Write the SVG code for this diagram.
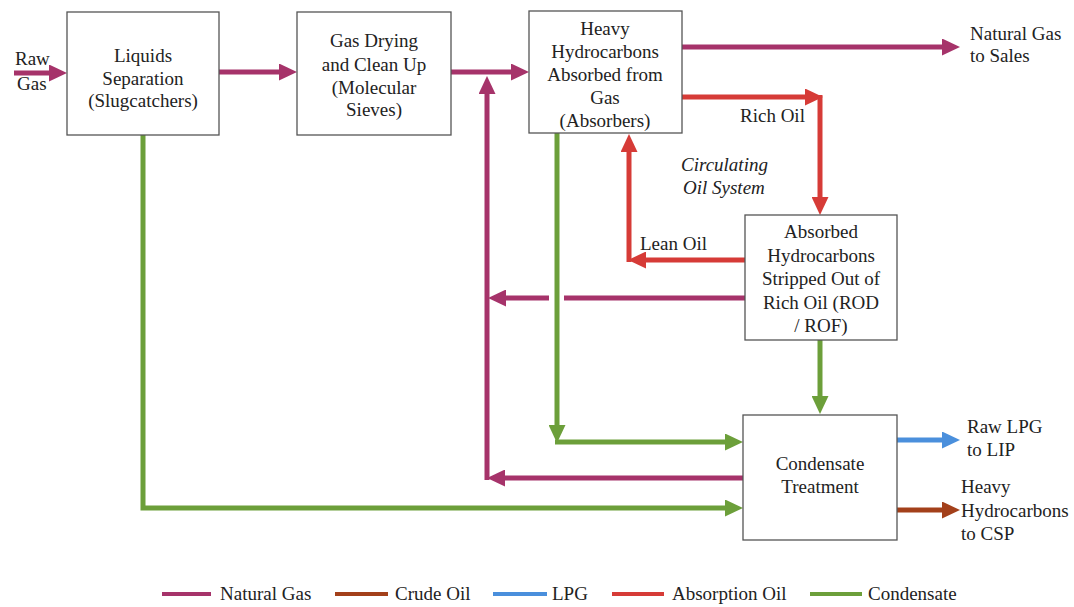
<svg xmlns="http://www.w3.org/2000/svg" width="1074" height="607" viewBox="0 0 1074 607">
<style>
.box{fill:#fff;stroke:#555;stroke-width:1.3}
.t{font-family:"Liberation Serif","Times New Roman",serif;font-size:19px;fill:#222}
.c{text-anchor:middle}
.it{font-style:italic}
.ln{fill:none;stroke-width:5;stroke-linejoin:miter}
.ng{stroke:#A6336A}
.ao{stroke:#D63B37}
.cd{stroke:#6C9F3A}
.lp{stroke:#4A8FDC}
.co{stroke:#A3401A}
.lg{stroke-width:4}
</style>
<defs>
<marker id="mNG" markerUnits="userSpaceOnUse" markerWidth="18" markerHeight="17" refX="10" refY="8.5" orient="auto"><path d="M0,0 L18,8.5 L0,17 z" fill="#A6336A"/></marker>
<marker id="mAO" markerUnits="userSpaceOnUse" markerWidth="18" markerHeight="17" refX="10" refY="8.5" orient="auto"><path d="M0,0 L18,8.5 L0,17 z" fill="#D63B37"/></marker>
<marker id="mCD" markerUnits="userSpaceOnUse" markerWidth="18" markerHeight="17" refX="10" refY="8.5" orient="auto"><path d="M0,0 L18,8.5 L0,17 z" fill="#6C9F3A"/></marker>
<marker id="mLP" markerUnits="userSpaceOnUse" markerWidth="18" markerHeight="17" refX="10" refY="8.5" orient="auto"><path d="M0,0 L18,8.5 L0,17 z" fill="#4A8FDC"/></marker>
<marker id="mCO" markerUnits="userSpaceOnUse" markerWidth="18" markerHeight="17" refX="10" refY="8.5" orient="auto"><path d="M0,0 L18,8.5 L0,17 z" fill="#A3401A"/></marker>
</defs>
<rect width="1074" height="607" fill="#fff"/>

<g id="connectors">
<path class="ln ng" d="M14,73 H59" marker-end="url(#mNG)"/>
<path class="ln ng" d="M219,72 H289" marker-end="url(#mNG)"/>
<path class="ln ng" d="M451,72 H521" marker-end="url(#mNG)"/>
<path class="ln ng" d="M682,47 H952" marker-end="url(#mNG)"/>
<path class="ln ng" d="M487,480 V84" marker-end="url(#mNG)"/>
<path class="ln ng" d="M745,298 H564"/>
<path class="ln ng" d="M549,298 H496" marker-end="url(#mNG)"/>
<path class="ln ng" d="M743,478 H495" marker-end="url(#mNG)"/>
<path class="ln ao" d="M682,97 H815" marker-end="url(#mAO)"/>
<path class="ln ao" d="M820,95 V207" marker-end="url(#mAO)"/>
<path class="ln ao" d="M745,260 H636" marker-end="url(#mAO)"/>
<path class="ln ao" d="M629,262 V142" marker-end="url(#mAO)"/>
<path class="ln cd" d="M557,133 V435" marker-end="url(#mCD)"/>
<path class="ln cd" d="M555,442 H735" marker-end="url(#mCD)"/>
<path class="ln cd" d="M820,340 V406" marker-end="url(#mCD)"/>
<path class="ln cd" d="M143,135 V508 H735" marker-end="url(#mCD)"/>
<path class="ln lp" d="M897,440 H952" marker-end="url(#mLP)"/>
<path class="ln co" d="M897,510 H952" marker-end="url(#mCO)"/>
</g>

<g id="raw-gas">
<text class="t" x="15" y="65">Raw</text>
<text class="t" x="17" y="90">Gas</text>
</g>

<g id="liquids-separation">
<rect class="box" x="67" y="12" width="152" height="123"/>
<text class="t c" x="143" y="62">Liquids</text>
<text class="t c" x="143" y="85">Separation</text>
<text class="t c" x="143" y="107">(Slugcatchers)</text>
</g>

<g id="gas-drying">
<rect class="box" x="297" y="12" width="154" height="123"/>
<text class="t c" x="374" y="47">Gas Drying</text>
<text class="t c" x="374" y="71">and Clean Up</text>
<text class="t c" x="374" y="94">(Molecular</text>
<text class="t c" x="374" y="116">Sieves)</text>
</g>

<g id="absorbers">
<rect class="box" x="529" y="11" width="153" height="122"/>
<text class="t c" x="605" y="35">Heavy</text>
<text class="t c" x="605" y="58">Hydrocarbons</text>
<text class="t c" x="605" y="81">Absorbed from</text>
<text class="t c" x="605" y="104">Gas</text>
<text class="t c" x="605" y="127">(Absorbers)</text>
</g>

<g id="sales">
<text class="t" x="970" y="40">Natural Gas</text>
<text class="t" x="970" y="62">to Sales</text>
</g>

<g id="circulating-labels">
<text class="t" x="740" y="122">Rich Oil</text>
<text class="t it" x="681" y="171">Circulating</text>
<text class="t it" x="683" y="194">Oil System</text>
<text class="t" x="640" y="250">Lean Oil</text>
</g>

<g id="rich-oil-stripping">
<rect class="box" x="745" y="215" width="152" height="125"/>
<text class="t c" x="821" y="238">Absorbed</text>
<text class="t c" x="821" y="262">Hydrocarbons</text>
<text class="t c" x="821" y="285">Stripped Out of</text>
<text class="t c" x="821" y="309">Rich Oil (ROD</text>
<text class="t c" x="821" y="332">/ ROF)</text>
</g>

<g id="condensate-treatment">
<rect class="box" x="743" y="415" width="154" height="125"/>
<text class="t c" x="820" y="470">Condensate</text>
<text class="t c" x="820" y="493">Treatment</text>
</g>

<g id="lpg-out">
<text class="t" x="967" y="433">Raw LPG</text>
<text class="t" x="967" y="456">to LIP</text>
</g>

<g id="csp-out">
<text class="t" x="961" y="493">Heavy</text>
<text class="t" x="961" y="517">Hydrocarbons</text>
<text class="t" x="961" y="540">to CSP</text>
</g>

<g id="legend">
<path class="lg ng" d="M162,594 H211"/>
<text class="t" x="220" y="600">Natural Gas</text>
<path class="lg co" d="M335,594 H388"/>
<text class="t" x="395" y="600">Crude Oil</text>
<path class="lg lp" d="M493,594 H547"/>
<text class="t" x="552" y="600">LPG</text>
<path class="lg ao" d="M612,594 H664"/>
<text class="t" x="672" y="600">Absorption Oil</text>
<path class="lg cd" d="M810,594 H862"/>
<text class="t" x="868" y="600">Condensate</text>
</g>
</svg>
